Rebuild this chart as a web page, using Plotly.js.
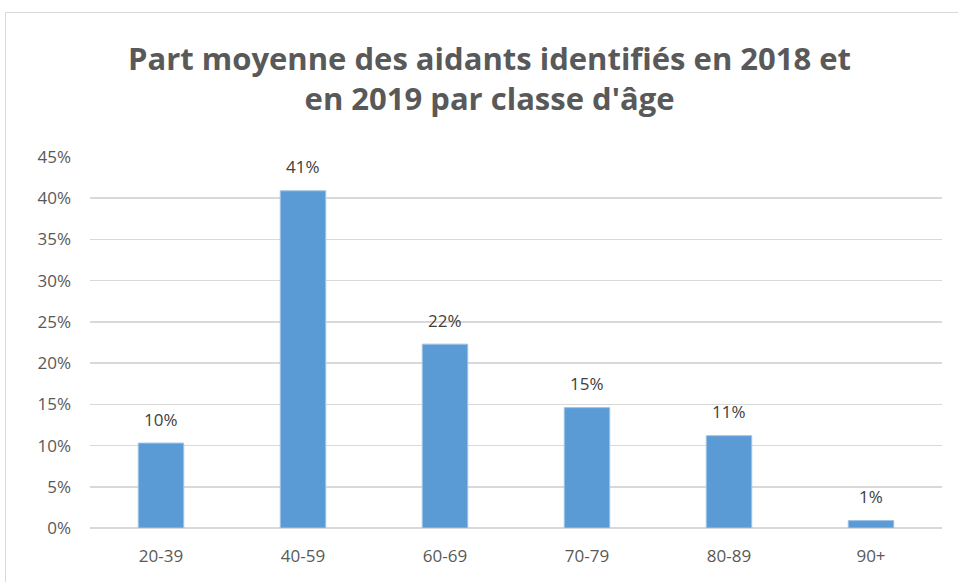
<!DOCTYPE html>
<html>
<head>
<meta charset="utf-8">
<script src="https://cdn.plot.ly/plotly-3.0.1.min.js"></script>
<style>
  html, body { margin: 0; padding: 0; background: #fff; }
  #wrap { position: relative; width: 958px; height: 582px; }
  #chart { width: 958px; height: 582px; }
  #frame { position: absolute; left: 5px; top: 12px; width: 960px; height: 580px;
           border-left: 1.5px solid #d9d9d9; border-top: 1.5px solid #d9d9d9; pointer-events: none; }
</style>
</head>
<body>
<div id="wrap">
  <div id="chart"></div>
  <div id="frame"></div>
</div>
<script>
const categories = ["20-39", "40-59", "60-69", "70-79", "80-89", "90+"];
const values = [0.103, 0.409, 0.223, 0.146, 0.112, 0.009];
const tickValues = [0, 0.05, 0.10, 0.15, 0.20, 0.25, 0.30, 0.35, 0.40, 0.45];
const tickLabels = ["0%", "5%", "10%", "15%", "20%", "25%", "30%", "35%", "40%", "45%"];
const titleText = "Part moyenne des aidants identifiés en 2018 et<br>en 2019 par classe d'âge";

const labelFont = { family: "Open Sans, sans-serif", size: 17, color: "#404040" };

const trace = {
  type: "bar",
  x: categories,
  y: values,
  marker: { color: "#5b9bd5", line: { color: "#9dc3e6", width: 1 } },
  width: 0.32,
  hoverinfo: "none"
};

const annotations = categories.map((c, i) => ({
  x: c,
  y: values[i],
  xref: "x",
  yref: "y",
  text: Math.round(values[i] * 100) + "%",
  showarrow: false,
  yanchor: "middle",
  yshift: 24,
  font: labelFont
}));

const layout = {
  width: 958,
  height: 582,
  margin: { l: 90, r: 16, t: 157, b: 54 },
  paper_bgcolor: "#ffffff",
  plot_bgcolor: "#ffffff",
  showlegend: false,
  title: {
    text: titleText,
    font: { family: "Open Sans, sans-serif", size: 31, color: "#595959", weight: "bold" },
    x: 0.511, xanchor: "center",
    y: 0.88, yanchor: "middle",
    xref: "container",
    yref: "container"
  },
  annotations: annotations,
  xaxis: {
    type: "category",
    tickfont: { family: "Open Sans, sans-serif", size: 17, color: "#595959" },
    showgrid: false,
    showline: false,
    ticks: "",
    ticklen: 0,
    ticklabelstandoff: 16
  },
  yaxis: {
    range: [0, 0.45],
    tickvals: tickValues,
    ticktext: tickLabels,
    tickfont: { family: "Open Sans, sans-serif", size: 17, color: "#595959" },
    showgrid: true,
    gridcolor: "#d9d9d9",
    gridwidth: 1.5,
    zeroline: true,
    zerolinecolor: "#d9d9d9",
    zerolinewidth: 1.5,
    showline: false,
    ticks: "",
    ticklabelstandoff: 18
  },
  bargap: 0.68
};

Plotly.newPlot("chart", [trace], layout, { displayModeBar: false, staticPlot: true });
</script>
</body>
</html>
